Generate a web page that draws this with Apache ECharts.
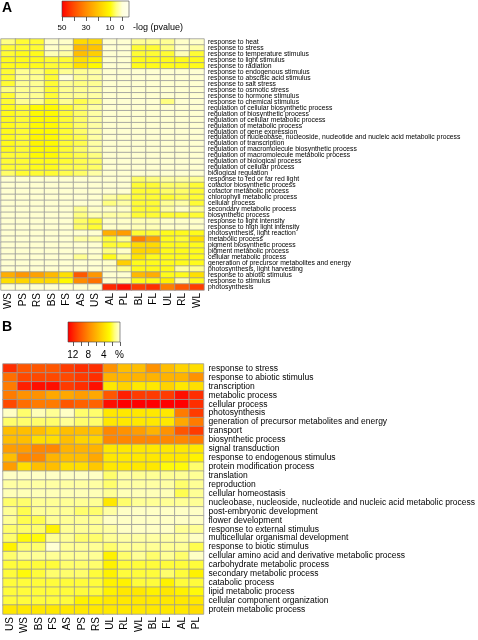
<!DOCTYPE html>
<html><head><meta charset="utf-8">
<script src="https://cdn.jsdelivr.net/npm/echarts/dist/echarts.min.js"></script>
<style>html,body{margin:0;padding:0;background:#fff}#c{width:478px;height:640px}</style>
</head><body><div id="c"></div>
<script>
// ---------- Panel A ----------
const colsA = ['WS','PS','RS','BS','FS','AS','US','AL','PL','BL','FL','UL','RL','WL'];
const rowsA = [
 'response to heat','response to stress','response to temperature stimulus','response to light stimulus',
 'response to radiation','response to endogenous stimulus','response to abscisic acid stimulus','response to salt stress',
 'response to osmotic stress','response to hormone stimulus','response to chemical stimulus',
 'regulation of cellular biosynthetic process','regulation of biosynthetic process','regulation of cellular metabolic process',
 'regulation of metabolic process','regulation of gene expression',
 'regulation of nucleobase, nucleoside, nucleotide and nucleic acid metabolic process','regulation of transcription',
 'regulation of macromolecule biosynthetic process','regulation of macromolecule metabolic process',
 'regulation of biological process','regulation of cellular process','biological regulation',
 'response to red or far red light','cofactor biosynthetic process','cofactor metabolic process',
 'chlorophyll metabolic process','cellular process','secondary metabolic process','biosynthetic process',
 'response to light intensity','response to high light intensity','photosynthesis, light reaction','metabolic process',
 'pigment biosynthetic process','pigment metabolic process','cellular metabolic process',
 'generation of precursor metabolites and energy','photosynthesis, light harvesting','response to abiotic stimulus',
 'response to stimulus','photosynthesis'];
// -log(pvalue), rows in rowsA order, columns in colsA order
const valuesA = [
 [5,8,8,1,1,16,16,0.5,0.5,4,4,4,1,1],
 [8,8,8,1,2,22,20,0.5,0.5,8,8,5,1,3],
 [8,9,9,2,3,21,18,0.5,0.5,8,8,8,2,8],
 [9,9,9,8,8,15,12,0.5,0.5,9,9,9,9,9],
 [9,9,9,8,8,15,10,0.5,0.5,9,9,9,9,9],
 [8,4,5,8,4,4,3,0.5,0.5,0.5,0.5,0.5,0.5,0.5],
 [8,4,4,8,0.2,4,3,0.5,0.5,0.5,0.5,0.5,0.5,0.5],
 [8,4,4,8,4,5,4,0.5,0.5,0.5,0.5,0.5,0.5,0.5],
 [5,4,4,8,4,4,3,0.5,0.5,0.5,0.5,0.5,0.5,0.5],
 [8,4,4,8,4,4,3,0.5,0.5,0.5,0.5,0.5,0.5,0.5],
 [8,4,4,8,4,7,5,0.5,0.5,0.5,0.5,5,0.5,0.5],
 [9,8,10,10,8,6,3,0.5,0.5,0.5,0.5,0.5,0.5,0.5],
 [9,8,10,10,8,6,3,0.5,0.5,0.5,0.5,0.5,0.5,0.5],
 [9,8,10,10,8,6,3,0.5,0.5,0.5,0.5,0.5,0.5,0.5],
 [9,8,10,10,8,6,3,0.5,0.5,0.5,0.5,0.5,0.5,0.5],
 [9,8,10,10,8,6,3,0.5,0.5,0.5,0.5,0.5,0.5,0.5],
 [9,8,11,10,8,7,3,0.5,0.5,0.5,0.5,0.5,0.5,0.5],
 [9,8,11,10,8,7,3,0.5,0.5,0.5,0.5,0.5,0.5,0.5],
 [9,8,10,10,8,6,3,0.5,0.5,0.5,0.5,0.5,0.5,0.5],
 [8,8,10,10,8,7,5,0.5,0.5,0.5,0.5,0.5,0.5,0.5],
 [8,8,9,9,8,7,6,0.5,0.5,0.5,0.5,0.5,0.5,0.5],
 [8,8,9,9,7,7,6,0.5,0.5,0.5,0.5,0.5,0.5,0.5],
 [6,8,8,8,7,6,3,0.5,0.5,0.5,0.5,0.5,0.5,0.5],
 [0.5,0.5,0.5,0.5,0.5,0.5,0.5,0.5,0.5,6,5,3,3,4],
 [0.5,0.5,0.5,0.5,0.5,0.5,0.5,0.5,0.5,8,8,6,6,8],
 [0.5,0.5,0.5,0.5,0.5,0.5,0.5,0.5,0.5,8,8,6,6,8],
 [0.5,0.5,0.5,0.5,0.5,0.5,0.5,3,5,8,8,8,7,8],
 [0.5,0.5,0.5,0.5,0.5,0.5,0.5,5,3,8,8,4,3,8],
 [0.5,0.5,0.5,0.5,0.5,4,1,1,1,8,8,3,1,4],
 [0.5,0.5,0.5,0.5,0.5,5,2,3,3,8,8,8,8,8],
 [0.5,0.5,0.5,0.5,0.5,6,8,1,1,2,2,1,1,1],
 [0.5,0.5,0.5,0.5,0.5,6,8,1,1,2,2,1,1,1],
 [0.5,0.5,0.5,0.5,0.5,0.5,0.5,24,27,8,8,9,9,9],
 [0.5,0.5,0.5,0.5,0.5,3,3,8,4,32,26,9,8,15],
 [0.5,0.5,0.5,0.5,0.5,0.5,0.5,8,8,16,16,9,9,9],
 [0.5,0.5,0.5,0.5,0.5,0.5,0.5,5,1,17,17,9,9,9],
 [0.5,0.5,0.5,0.5,0.5,4,1,9,4,14,9,9,9,9],
 [0.5,0.5,0.5,0.5,0.5,0.5,0.5,1,18,9,9,9,9,9],
 [0.5,0.5,0.5,0.5,0.5,0.5,0.5,1,4,9,9,9,3,4],
 [24,28,26,22,15,38,28,0.5,0.5,22,24,9,9,15],
 [15,17,16,16,10,30,34,0.5,2,9,9,12,2,9],
 [0.5,0.5,0.5,0.5,0.5,0.5,0.5,45,48,42,44,32,38,42]
];
const ticksA = [50,40,30,20,10,0];
const tickLabelsA = ['50','30','10','0'];

// ---------- Panel B ----------
const colsB = ['US','WS','BS','FS','AS','PS','RS','UL','RL','WL','BL','FL','AL','PL'];
const rowsB = [
 'response to stress','response to abiotic stimulus','transcription','metabolic process','cellular process',
 'photosynthesis','generation of precursor metabolites and energy','transport','biosynthetic process',
 'signal transduction','response to endogenous stimulus','protein modification process','translation',
 'reproduction','cellular homeostasis','nucleobase, nucleoside, nucleotide and nucleic acid metabolic process',
 'post-embryonic development','flower development','response to external stimulus',
 'multicellular organismal development','response to biotic stimulus',
 'cellular amino acid and derivative metabolic process','carbohydrate metabolic process',
 'secondary metabolic process','catabolic process','lipid metabolic process',
 'cellular component organization','protein metabolic process'];
// percent, rows in rowsB order, columns in colsB order
const valuesB = [
 [11.5,10,10,10,11,11.5,11.5,7.5,5.5,5.5,7.5,5.5,4.5,4],
 [9,10.5,10.5,10.5,10.5,11,11.5,6,6,6,6,6,6,7.5],
 [8.5,12,12.5,12.5,11,11.5,12.5,3.5,4.5,3.5,3.5,4.5,3.5,4],
 [8.5,7.5,7.5,6.5,6.5,7,6.5,10,12,11,11,11,12.5,11.5],
 [10.5,9,8.5,8.5,10,9.5,9.5,12.5,13,13,13,13,13,11.5],
 [0.3,1.5,0.5,1,0.3,1.5,1.5,3.5,3.5,3.5,3.5,3.5,8.5,11],
 [1.5,1.5,1.5,1.5,1,1.5,1.5,3.5,3.5,3.5,3.5,3.5,6.5,8.5],
 [5.5,5.5,5.5,4.5,5.5,5.5,5.5,8,7.5,7,6,7.5,10,11],
 [5.5,5.5,4,4,5.5,4.5,4.5,8,8,8,8,8,8,8.5],
 [7,7,8,8,6,6,6,3.5,3.5,3.5,3.5,3.5,3.5,3.5],
 [5.5,8,8,6,5.5,5.5,6.5,3.5,3.5,3.5,3.5,3.5,3.5,3],
 [7,4,5.5,5.5,4,4,5,3.5,3.5,3.5,3.5,2.5,2.5,1.5],
 [0.3,0.3,0.3,0.3,0.3,0.3,0.3,1.5,0.8,1,1,1,1,1],
 [0.8,0.8,0.8,0.8,0.8,0.8,0.8,1.5,0.8,0.8,0.8,0.8,1.5,1],
 [0.5,0.5,0.5,0.5,0.5,0.5,0.5,1,0.5,0.5,0.5,0.5,1.8,1],
 [1.5,1.5,1,1,1,1,1,3.5,1.5,1,1,1,1,1],
 [1,1.8,1,1,1,1.5,1.5,0.8,0.3,0.3,0.3,0.3,0.3,0.3],
 [1,1.8,1.8,1,1,1,1,0.3,0.3,0.3,0.3,0.3,0.3,0.3],
 [1.5,1.5,1.5,3,1,1,1,0.8,0.3,0.3,0.3,0.3,1,1],
 [1.5,2.5,2.5,1,1,1.5,1.5,1,0.8,0.8,0.8,0.8,0.8,0.3],
 [3,1.5,1.5,0.1,1,1,1,1.5,1,1,1,1,1,1.8],
 [1.5,1,1,1,1,1,1,3,1.5,1,1.5,1,1.5,0.3],
 [2,2,2,2,1.5,1.5,1.5,3,2,2,2,2,2,2],
 [2,2.5,2,1.5,1.5,1.5,2,3,2,2,2,1.5,2,3],
 [2,2,2,2,2,2,2,3,3,2,2,3,2,2],
 [2,2,2,2,2,2,2,3,3.5,3.5,3,3.5,3,2.5],
 [2,2,2,2,2,3,3,3.5,3.5,3.5,3.5,3.5,3.5,3.5],
 [3.5,3.5,3.5,3.5,3.5,3.5,3.5,3.5,3.5,3.5,3.5,3.5,3.5,4]
];
const ticksB = [12,10,8,6,4,2,0];
const tickLabelsB = ['12','8','4','%'];

// ---------- colours (low -> high) ----------
const heat = ['#FFFFDA','#FFFF80','#FFFA00','#FFE000','#FFC400','#FFA800','#FF8C00','#FF6C00','#FF4C00','#FF2800','#FF0000'];
const FONT = 'Liberation Sans, Arial, sans-serif';

function toData(vals){ const d=[]; vals.forEach((row,r)=>row.forEach((v,c)=>d.push([c,r,v]))); return d; }

// legend geometry
const legA = {x:62, y:1, w:67, h:16, v0x:122, pxPerUnit:1.2, max:50};
const legB = {x:68, y:322, w:52, h:20, v0x:119.5, pxPerUnit:3.9, max:13};
function gradStops(L){
  const stops=[];
  heat.forEach((col,i)=>{
    const v = L.max*i/(heat.length-1);
    const x = L.v0x - v*L.pxPerUnit;
    stops.push({offset:Math.min(1,Math.max(0,(x-L.x)/L.w)), color:col});
  });
  stops.sort((a,b)=>a.offset-b.offset);
  stops.push({offset:1,color:'#FFFFF0'});
  return stops;
}
function legendGraphics(L, ticks, labels, labelVals, labelY, fs){
  const g=[];
  g.push({type:'rect', shape:{x:L.x,y:L.y,width:L.w,height:L.h},
    style:{fill:{type:'linear',x:0,y:0,x2:1,y2:0,colorStops:gradStops(L)}, stroke:'#444', lineWidth:0.6}});
  ticks.forEach(t=>{ const x=Math.round(L.v0x - t*L.pxPerUnit)+0.5;
    g.push({type:'line', shape:{x1:x,y1:L.y+L.h,x2:x,y2:L.y+L.h+4}, style:{stroke:'#333',lineWidth:0.8}}); });
  labels.forEach((s,i)=>{ const x=L.v0x - labelVals[i]*L.pxPerUnit;
    g.push({type:'text', x:x, y:labelY, style:{text:s, fill:'#000', font:fs+'px '+FONT, textAlign:'center', textVerticalAlign:'middle'}}); });
  return g;
}

const chart = echarts.init(document.getElementById('c'), null, {renderer:'canvas'});
const axisCommon = {axisLine:{show:false}, axisTick:{show:false}, splitLine:{show:false}, splitArea:{show:false}};
const graphics = [
  {type:'text', x:2, y:8, style:{text:'A', fill:'#000', font:'bold 14px '+FONT, textVerticalAlign:'middle'}},
  {type:'text', x:2, y:327, style:{text:'B', fill:'#000', font:'bold 14px '+FONT, textVerticalAlign:'middle'}},
  {type:'text', x:133, y:28, style:{text:'-log (pvalue)', fill:'#000', font:'9px '+FONT, textVerticalAlign:'middle'}}
].concat(legendGraphics(legA, ticksA, tickLabelsA, [50,30,10,0], 28, 8))
 .concat(legendGraphics(legB, ticksB, tickLabelsB, [12,8,4,0], 355, 10));

chart.setOption({
  animation:false,
  backgroundColor:'#fff',
  grid:[{left:1, top:39, width:203, height:251}, {left:3, top:364, width:201, height:250}],
  xAxis:[
    Object.assign({type:'category', gridIndex:0, data:colsA, position:'bottom',
      axisLabel:{rotate:90, fontSize:10, margin:3, color:'#000', interval:0, fontFamily:FONT}}, axisCommon),
    Object.assign({type:'category', gridIndex:1, data:colsB, position:'bottom',
      axisLabel:{rotate:90, fontSize:10, margin:3, color:'#000', interval:0, fontFamily:FONT}}, axisCommon)
  ],
  yAxis:[
    Object.assign({type:'category', gridIndex:0, data:rowsA, inverse:true, position:'right',
      axisLabel:{fontSize:6.8, margin:4, color:'#000', interval:0, fontFamily:FONT}}, axisCommon),
    Object.assign({type:'category', gridIndex:1, data:rowsB, inverse:true, position:'right',
      axisLabel:{fontSize:8.5, margin:5, color:'#000', interval:0, fontFamily:FONT}}, axisCommon)
  ],
  visualMap:[
    {type:'continuous', show:false, seriesIndex:0, dimension:2, min:0, max:50, inRange:{color:heat}},
    {type:'continuous', show:false, seriesIndex:1, dimension:2, min:0, max:13, inRange:{color:heat}}
  ],
  series:[
    {type:'heatmap', xAxisIndex:0, yAxisIndex:0, data:toData(valuesA),
      itemStyle:{borderColor:'#999', borderWidth:0.8}, emphasis:{disabled:true}, progressive:0},
    {type:'heatmap', xAxisIndex:1, yAxisIndex:1, data:toData(valuesB),
      itemStyle:{borderColor:'#999', borderWidth:0.8}, emphasis:{disabled:true}, progressive:0}
  ],
  graphic:graphics
});
</script></body></html>
